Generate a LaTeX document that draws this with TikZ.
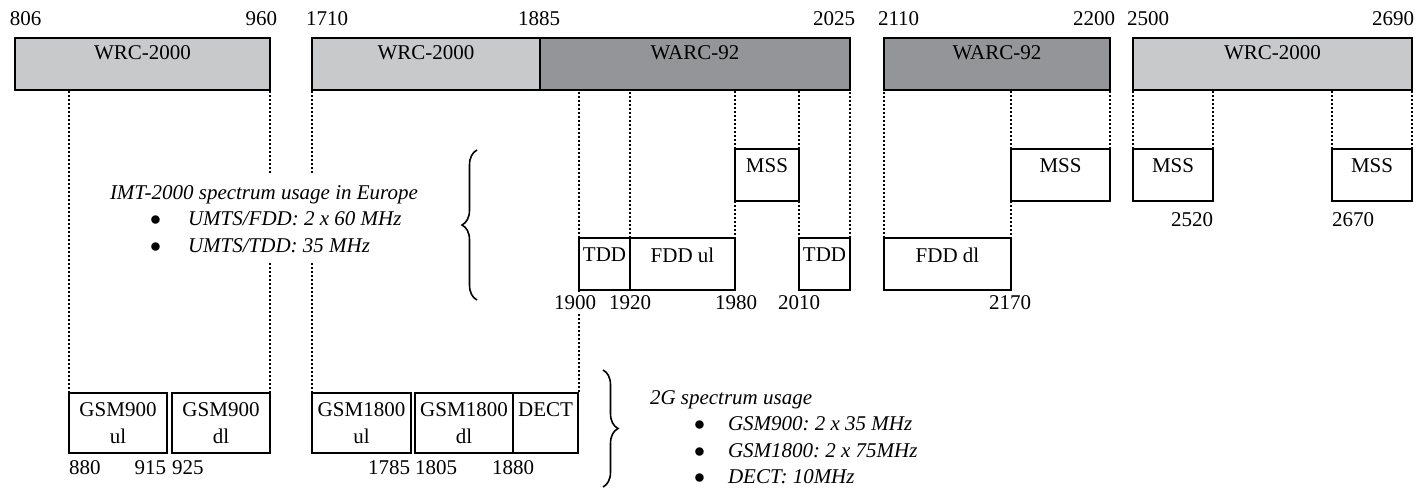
\documentclass[tikz,border=0pt]{standalone}
\usepackage{fontspec}
\setmainfont{Liberation Serif}
\usetikzlibrary{positioning, decorations.pathreplacing}
\definecolor{wrcgray}{RGB}{200,201,203}
\definecolor{warcgray}{RGB}{147,149,152}
\frenchspacing

\begin{document}
\begin{tikzpicture} [x=0.5pt, y=-0.5pt,
			font=\fontsize{10.5}{13.25}\selectfont,
			every node/.style={inner sep=0pt, outer sep=0pt},
			band/.style={draw, line width=0.6pt, anchor=north west,
				minimum height=26pt},
			slot/.style={band},
			gsmslot/.style={band, minimum height=30pt},
			intext/.style={anchor=north, align=center, yshift=-5pt},
			bartext/.style={anchor=north, yshift=-4pt},
			freq/.style={inner sep=0pt},
			guide/.style={densely dotted, line width=1pt},
			note/.style={align=left, anchor=west, fill=white, inner sep=5pt,
				font=\fontsize{10.5}{13.25}\selectfont\itshape},
			brace/.style={decorate, decoration={brace, amplitude=7.5pt},
				line width=0.8pt},
		]
		\useasboundingbox (0,0) rectangle (1422,490);

		% Allocations
		\node (wrcA) [band, fill=wrcgray, minimum width=127.5pt,
			label={[bartext]north:WRC-2000}] at (15,38) {};
		\node (wrcB) [band, fill=wrcgray, minimum width=114pt,
			label={[bartext]north:WRC-2000}] at (312,38) {};
		\node (warcA) [band, fill=warcgray, minimum width=155pt,
			label={[bartext]north:WARC-92}] at (540,38) {};
		\node (warcB) [band, fill=warcgray, minimum width=113pt,
			label={[bartext]north:WARC-92}] at (884,38) {};
		\node (wrcC) [band, fill=wrcgray, minimum width=139.5pt,
			label={[bartext]north:WRC-2000}] at (1133,38) {};

		% IMT-2000 bands
		\node (tddA) [slot, minimum width=25.5pt,
			label={[intext]north:TDD}] at (579,238) {};
		\node (fddul) [slot, minimum width=52.5pt,
			label={[intext]north:FDD ul}] at (630,238) {};
		\node (mssA) [slot, minimum width=32pt,
			label={[intext]north:MSS}] at (735,149) {};
		\node (tddB) [slot, minimum width=25.5pt,
			label={[intext]north:TDD}] at (799,238) {};
		\node (fdddl) [slot, minimum width=63.5pt,
			label={[intext]north:FDD dl}] at (884,238) {};
		\node (mssB) [slot, minimum width=49.5pt,
			label={[intext]north:MSS}] at (1011,149) {};
		\node (mssC) [slot, minimum width=40pt,
			label={[intext]north:MSS}] at (1133,149) {};
		\node (mssD) [slot, minimum width=40pt,
			label={[intext]north:MSS}] at (1332,149) {};

		% 2G bands
		\node (gsm9ul) [gsmslot, minimum width=49pt,
			label={[intext]north:GSM900\\ul}] at (69,393) {};
		\node (gsm9dl) [gsmslot, minimum width=49pt,
			label={[intext]north:GSM900\\dl}] at (172,393) {};
		\node (gsm18ul) [gsmslot, minimum width=49.5pt,
			label={[intext]north:GSM1800\\ul}] at (312,393) {};
		\node (gsm18dl) [gsmslot, minimum width=49pt,
			label={[intext]north:GSM1800\\dl}] at (415,393) {};
		\node (dect) [gsmslot, minimum width=32.5pt,
			label={[intext]north:DECT}] at (513,393) {};

		% Guides
		\path [guide]
		(gsm9ul.north west) edge (gsm9ul.north west |- wrcA.south)
		(gsm9dl.north east) edge (gsm9dl.north east |- wrcA.south)
		(gsm18ul.north west) edge (gsm18ul.north west |- wrcB.south)
		(tddA.north west) edge (tddA.north west |- warcA.south)
		(tddA.south west) edge (tddA.south west |- dect.north)
		(tddA.north east) edge (tddA.north east |- warcA.south)
		(mssA.north west) edge (mssA.north west |- warcA.south)
		(mssA.south west) edge (fddul.north east)
		(mssA.north east) edge (mssA.north east |- warcA.south)
		(mssA.south east) edge (tddB.north west)
		(tddB.north east) edge (tddB.north east |- warcA.south)
		(fdddl.north west) edge (fdddl.north west |- warcB.south)
		(mssB.north west) edge (mssB.north west |- warcB.south)
		(mssB.south west) edge (fdddl.north east)
		(mssB.north east) edge (mssB.north east |- warcB.south)
		(mssC.north west) edge (mssC.north west |- wrcC.south)
		(mssC.north east) edge (mssC.north east |- wrcC.south)
		(mssD.north west) edge (mssD.north west |- wrcC.south)
		(mssD.north east) edge (mssD.north east |- wrcC.south)
		;

		% Frequencies
		\node (f806) [freq, anchor=west] at (10,19) {806};
		\node (f960) [freq, anchor=east] at (277,19) {960};
		\node (f1710) [freq, anchor=west] at (306,19) {1710};
		\node (f1885) [freq] at (539,19) {1885};
		\node (f2025) [freq, anchor=east] at (855,19) {2025};
		\node (f2110) [freq, anchor=west] at (878,19) {2110};
		\node (f2200) [freq, anchor=east] at (1115,19) {2200};
		\node (f2500) [freq, anchor=west] at (1127,19) {2500};
		\node (f2690) [freq, anchor=east] at (1414,19) {2690};
		\node (f1900) [freq, fill=white, inner ysep=2pt] at (575,303) {1900};
		\node (f1920) [freq] at (630,303) {1920};
		\node (f1980) [freq] at (736,303) {1980};
		\node (f2010) [freq] at (799,303) {2010};
		\node (f2170) [freq] at (1010,303) {2170};
		\node (f2520) [freq, anchor=east] at (1213,220) {2520};
		\node (f2670) [freq, anchor=west] at (1332,220) {2670};
		\node (f880) [freq, anchor=west] at (69,468) {880};
		\node (f915) [freq, anchor=east] at (166,468) {915};
		\node (f925) [freq, anchor=west] at (172,468) {925};
		\node (f1785) [freq, anchor=east] at (410,468) {1785};
		\node (f1805) [freq, anchor=west] at (415,468) {1805};
		\node (f1880) [freq] at (513,468) {1880};

		% Notes
		\node (imt) [note] at (100,219) {IMT-2000 spectrum usage in Europe\\
			\hspace*{20pt}\makebox[19pt][l]{$\bullet$}UMTS/FDD: 2 x 60 MHz\\
			\hspace*{20pt}\makebox[19pt][l]{$\bullet$}UMTS/TDD: 35 MHz};
		\node (twog) [note] at (640,437) {2G spectrum usage\\
			\hspace*{22pt}\makebox[17pt][l]{$\bullet$}GSM900: 2 x 35 MHz\\
			\hspace*{22pt}\makebox[17pt][l]{$\bullet$}GSM1800: 2 x 75MHz\\
			\hspace*{22pt}\makebox[17pt][l]{$\bullet$}DECT: 10MHz};

		% Braces
		\coordinate (imtlow) at (477,300);
		\coordinate (imthigh) at (477,150);
		\coordinate (twoghigh) at (603,370);
		\coordinate (twoglow) at (603,487);
		\draw [brace] (imtlow) -- (imthigh);
		\draw [brace] (twoghigh) -- (twoglow);
	\end{tikzpicture}
\end{document}
